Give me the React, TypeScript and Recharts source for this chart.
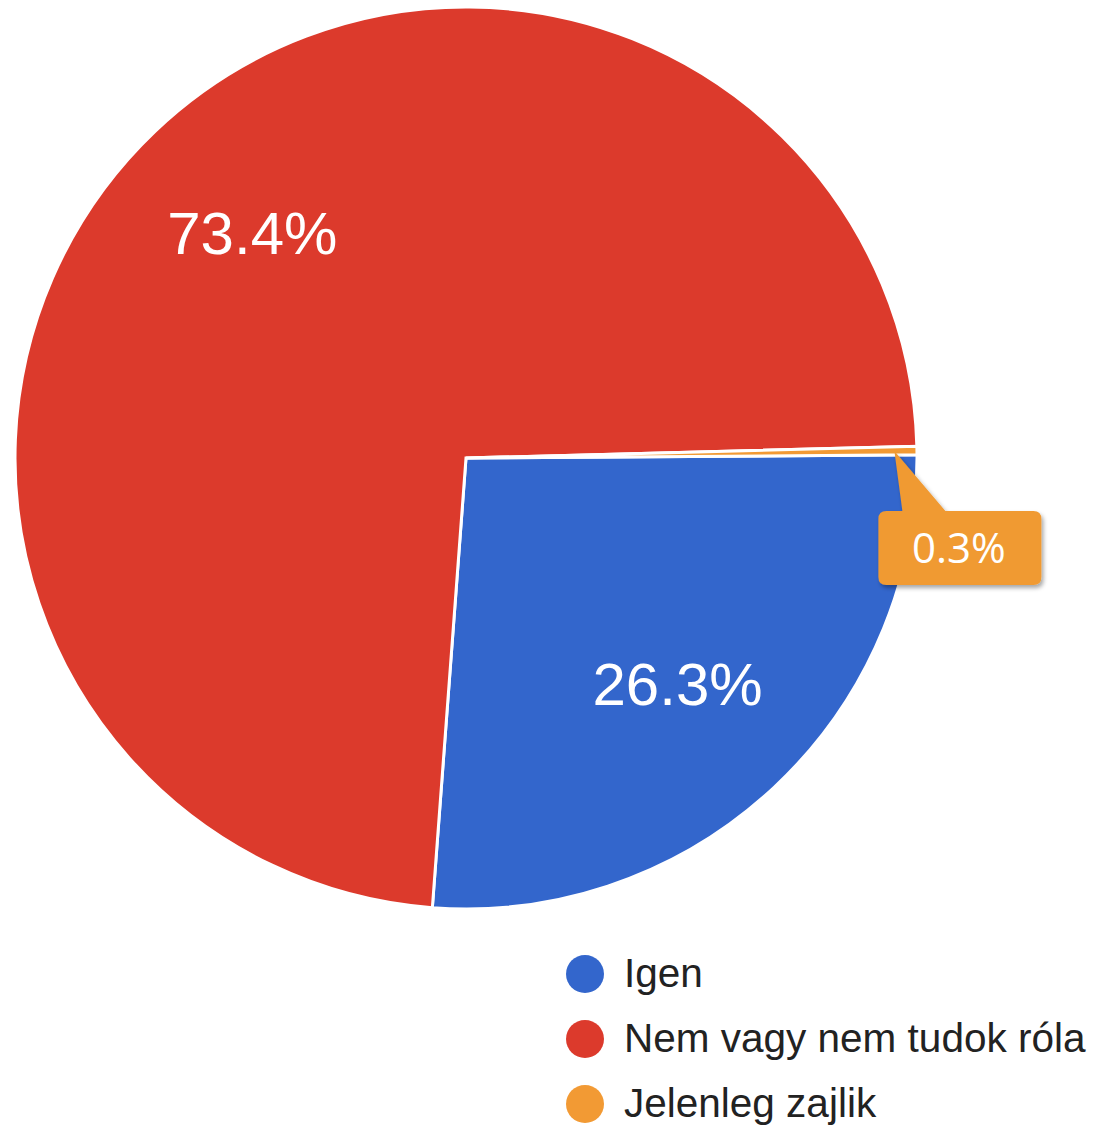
import React from 'react';
import { PieChart, Pie, Cell, Legend } from 'recharts';

const categories = ['Igen', 'Nem vagy nem tudok róla', 'Jelenleg zajlik'];
const shares = [26.3, 73.4, 0.3];
const colors = ['#3366CC', '#DC3A2C', '#F29A34'];

const data = categories.map((name, i) => ({ name, value: shares[i] }));

const RAD = Math.PI / 180;

const renderLabel = (props: any) => {
  const { cx, cy, midAngle, outerRadius, index, value } = props;
  const text = `${value.toFixed(1)}%`;
  if (index === 2) {
    // small slice gets a callout box
    const tipR = outerRadius * 0.95;
    const tx = cx + tipR * Math.cos(-midAngle * RAD);
    const ty = cy + tipR * Math.sin(-midAngle * RAD);
    const bx = tx - 16;
    const by = ty + 60;
    const bw = 163;
    const bh = 74;
    return (
      <g>
        <defs>
          <filter id="calloutShadow" x="-20%" y="-20%" width="140%" height="150%">
            <feDropShadow dx="2" dy="3" stdDeviation="2" floodColor="#000" floodOpacity="0.35" />
          </filter>
        </defs>
        <g filter="url(#calloutShadow)">
          <path
            d={`M${bx + 8},${by} L${tx + 8},${by} L${tx},${ty} L${tx + 51},${by} L${bx + bw - 8},${by} Q${bx + bw},${by} ${bx + bw},${by + 8} L${bx + bw},${by + bh - 8} Q${bx + bw},${by + bh} ${bx + bw - 8},${by + bh} L${bx + 8},${by + bh} Q${bx},${by + bh} ${bx},${by + bh - 8} L${bx},${by + 8} Q${bx},${by} ${bx + 8},${by} Z`}
            fill="#F09A33"
          />
        </g>
        <text
          x={bx + bw / 2 - 1}
          y={by + bh / 2 + 15}
          textAnchor="middle"
          fill="#fff"
          fontSize={42}
          fontFamily="'Open Sans', sans-serif"
        >
          {text}
        </text>
      </g>
    );
  }
  const r = outerRadius * 0.687;
  const x = cx + r * Math.cos(-midAngle * RAD);
  const y = cy + r * Math.sin(-midAngle * RAD);
  return (
    <text
      x={x}
      y={y}
      textAnchor="middle"
      dominantBaseline="central"
      fill="#fff"
      fontSize={60}
      fontFamily="'Liberation Sans', Arial, sans-serif"
    >
      {text}
    </text>
  );
};

const renderLegend = () => (
  <div>
    {categories.map((name, i) => (
      <div key={name} style={{ display: 'flex', alignItems: 'center', height: 65 }}>
        <span
          style={{
            width: 38,
            height: 38,
            borderRadius: '50%',
            background: colors[i],
            display: 'inline-block',
            marginRight: 20,
          }}
        />
        <span style={{ fontSize: 40.5, color: '#222', fontFamily: "'Liberation Sans', Arial, sans-serif" }}>{name}</span>
      </div>
    ))}
  </div>
);

export default function App() {
  return (
    <div style={{ position: 'absolute', left: 0, top: 0, width: 1094, height: 1126, background: '#fff' }}>
      <PieChart width={1094} height={1126} margin={{ top: 0, right: 0, bottom: 0, left: 0 }}>
        <Pie
          data={data}
          dataKey="value"
          nameKey="name"
          cx={466}
          cy={458}
          outerRadius={451}
          startAngle={0.4}
          endAngle={-359.6}
          stroke="#fff"
          strokeWidth={3}
          label={renderLabel}
          labelLine={false}
          isAnimationActive={false}
        >
          {data.map((d, i) => (
            <Cell key={d.name} fill={colors[i]} />
          ))}
        </Pie>
        <Legend
          content={renderLegend}
          wrapperStyle={{ position: 'absolute', left: 566, top: 941, width: 528 }}
        />
      </PieChart>
    </div>
  );
}
